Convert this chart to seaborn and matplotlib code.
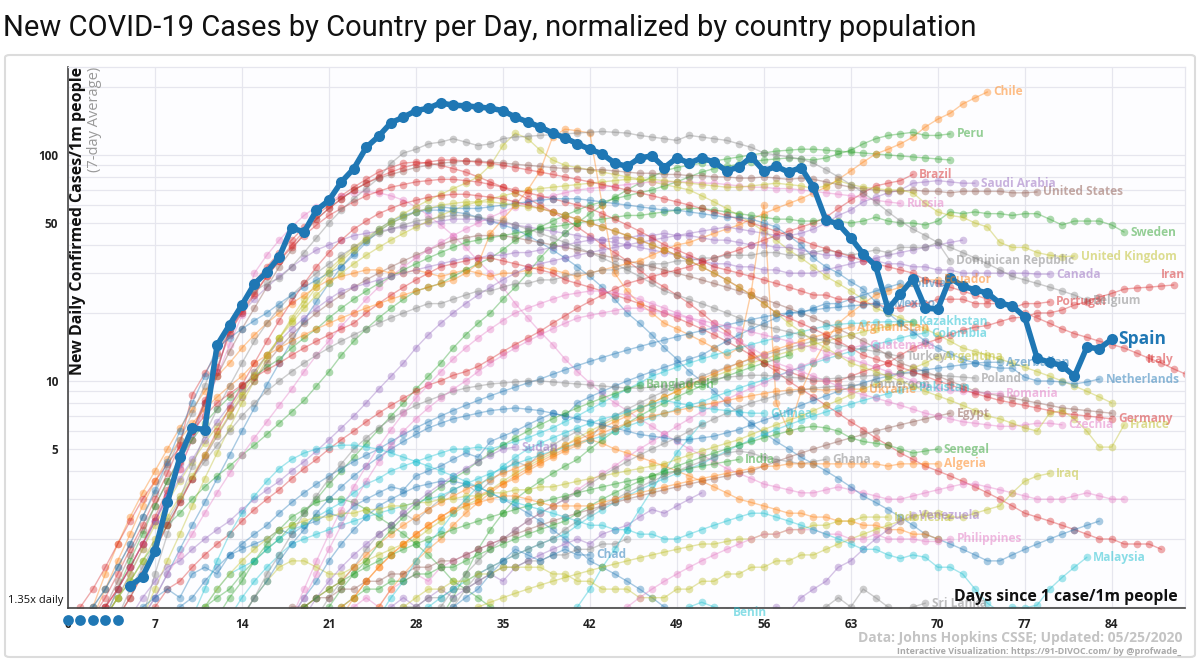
import matplotlib
matplotlib.use("Agg")
import matplotlib.pyplot as plt
import matplotlib.ticker as mticker
from matplotlib.patches import FancyBboxPatch
import pandas as pd
import seaborn as sns

# palette (d3 category10)
BLUE, ORANGE, GREEN, RED, PURPLE = "#1f77b4", "#ff7f0e", "#2ca02c", "#d62728", "#9467bd"
BROWN, PINK, GRAY, OLIVE, CYAN = "#8c564b", "#e377c2", "#7f7f7f", "#bcbd22", "#17becf"

# Spain (highlighted), days 5..84
spain_start = 5
spain_values = [1.24, 1.36, 1.77, 2.9, 4.6, 6.2, 6.1, 14.4, 17.7, 21.7,
                26.9, 30.3, 35.4, 47.6, 45.6, 57, 63, 76, 87, 108,
                121, 139, 147, 157, 161, 170, 166, 165, 163, 161,
                157, 147, 140, 133, 125, 119, 112, 106, 101, 92,
                89, 97, 99, 88, 97, 92, 97, 93, 85, 88.5,
                98, 85, 89, 84, 88, 72, 51.5, 49.5, 43, 36.5,
                32.3, 20.8, 24.3, 28.3, 21, 20.8, 28.6, 26.3, 25.3, 24.5,
                22.1, 21.5, 19.2, 12.6, 12.1, 11.7, 10.5, 14.1, 13.9, 15.3]
spain_floor_days = [0, 1, 2, 3, 4]
spain_floor_value = 0.875

# other countries: values end on the given last day
chile = [1.0, 1.4, 1.9, 2.5, 3.2, 4.0, 5.0, 6.2, 7.5, 9, 10.5, 12, 14, 16, 18, 20, 22, 24, 26, 28,
         29, 30, 31, 31, 30, 30, 31, 30, 29, 30, 31, 30, 29, 30, 30, 31, 32, 31, 30, 29, 30,
         31, 32, 33, 34, 36, 38, 40, 41, 43, 45, 47, 49, 52, 55, 58, 61, 64, 68, 72, 78,
         85, 93, 101, 106, 112, 120, 133, 144, 153, 168, 179, 190]
peru = [0.9, 1.1, 1.3, 1.6, 1.9, 2.3, 2.6, 3.0, 3.4, 3.8, 4.2, 4.7, 5.2, 5.8, 6.5, 7.3, 8.2, 9.5, 11, 13,
        15, 17, 19, 21, 23, 25, 26, 27, 29, 31, 33, 35, 38, 42, 45, 48, 51, 54, 57, 60,
        62, 64, 66, 68, 70, 73, 76, 80, 84, 87, 89, 91, 93, 95, 96, 97, 96, 95, 97, 101,
        105, 112, 118, 122, 124, 126, 122, 122, 124]
brazil = [0.9, 1.0, 1.2, 1.3, 1.5, 1.7, 1.9, 2.1, 2.4, 2.7, 3.0, 3.3, 3.7, 4.1, 4.5, 5.0, 5.5, 6.0, 6.6, 7.2,
          7.8, 8.4, 9.0, 9.6, 10, 10.6, 11, 11.6, 12.5, 13.5, 14.5, 15.5, 16.6, 18, 19.4, 21, 22.5, 24, 25.5, 27,
          28, 29, 30, 31, 32, 33.5, 35, 36.5, 38, 40, 42, 44, 46, 48, 50, 53, 58, 63, 68, 73, 75, 77, 82]
saudi = [0.9, 1.1, 1.3, 1.5, 1.6, 1.8, 2.0, 2.2, 2.4, 2.7, 3.0, 3.3, 3.6, 4.0, 4.4, 4.9, 5.5, 6.2, 7.0, 8.0,
         9.2, 10.5, 12, 14, 16, 18, 20, 22, 24, 26, 28, 30, 32, 33, 34, 35, 36, 37, 38, 39,
         40, 41, 42, 43, 44, 45, 46, 47, 48, 47, 46, 45, 44, 44, 45, 47, 50, 54, 57, 62,
         65, 68, 70, 75, 76, 77, 76, 75, 75]
usa = [0.5, 0.6, 0.8, 1.0, 1.3, 1.7, 2.2, 2.8, 3.6, 4.6, 6, 8, 10.5, 13.5, 17, 21, 26, 32, 38, 45,
       52, 58, 64, 70, 75, 79, 82, 85, 88, 90, 92, 93, 94, 94, 93, 92, 91, 90, 89, 88,
       87, 87, 86, 86, 85, 84, 83, 83, 82, 82, 81, 81, 80, 80, 79, 79, 80, 79, 78, 79,
       78, 76, 74, 72, 71, 70, 69, 69, 70, 69, 69, 68, 69, 69, 69, 69, 68, 68, 68.6]
russia = [0.9, 1.1, 1.4, 1.7, 2.1, 2.6, 3.2, 3.9, 4.7, 5.6, 6.6, 7.8, 9.2, 11, 13, 15, 17.5, 20, 23, 26,
          29, 32, 35, 38, 41, 44, 47, 50, 53, 56, 59, 62, 64, 66, 68, 70, 71, 72, 73, 74,
          75, 76, 76, 76, 76, 75, 75, 74, 73, 72, 72, 71, 71, 70, 69, 68, 67, 66, 65, 63, 62, 61]
sweden = [0.9, 1.2, 1.6, 2.1, 2.8, 3.6, 4.5, 5.5, 6.5, 7.5, 8.5, 9.5, 10.5, 11.5, 12.5, 14, 15.5, 17, 19, 21,
          23, 25, 27, 29, 31, 33, 35, 37, 39, 41, 42, 43, 44, 45, 46, 47, 48, 49, 50, 51,
          52, 53, 54, 54, 55, 56, 57, 58, 58, 57, 56, 55, 54, 53, 52, 52, 51, 51, 52, 51,
          50, 51, 53, 51, 50, 50, 49, 51, 56, 55, 56, 55, 55, 54, 55, 55, 52, 49, 51, 51, 51, 49, 45.6]
uk = [0.9, 1.1, 1.4, 1.8, 2.3, 2.9, 3.6, 4.4, 5.3, 6.3, 7.5, 9, 11, 13, 15.5, 18, 21, 24, 27, 30,
      33, 36, 39, 42, 45, 48, 51, 54, 57, 60, 62, 64, 66, 68, 70, 71, 72, 73, 74, 75,
      76, 77, 78, 78, 78, 77, 76, 75, 74, 73, 72, 72, 73, 74, 75, 74, 73, 71, 73, 77,
      74, 72, 71, 70, 70, 68, 61, 56, 54, 53, 50, 48, 41, 39, 39, 37, 36, 35.5, 35.7]
dominican = [0.9, 1.2, 1.5, 1.9, 2.4, 3.0, 3.7, 4.4, 5.2, 6.0, 7, 8, 9, 10, 11, 12, 13, 14, 15, 16,
             17, 18, 19, 20, 21, 22, 22, 23, 24, 25, 25, 26, 27, 27, 28, 28, 29, 30, 30, 31,
             31, 32, 32, 33, 33, 34, 34, 35, 35, 36, 36, 36, 37, 37, 36, 36, 37, 38, 37, 36,
             37, 38, 37, 39, 39, 39, 41, 34]
canada = [0.9, 1.2, 1.5, 1.9, 2.4, 3.0, 3.7, 4.5, 5.5, 6.6, 7.8, 9.2, 11, 13, 15, 17, 19, 21, 23, 25,
          26, 27, 28, 29, 30, 31, 32, 33, 34, 35, 35, 36, 36, 37, 37, 38, 39, 40, 41, 42,
          42, 43, 43, 44, 44, 45, 44, 44, 43, 42, 42, 41, 40, 40, 39, 39, 38, 37, 36, 36,
          35, 35, 34, 33, 33, 32, 32, 31, 31, 30, 30, 30, 30, 30, 30, 29.7, 29.7]
iran = [0.8, 1.0, 1.2, 1.5, 1.9, 2.4, 3.0, 3.6, 4.3, 5.1, 6.0, 7.0, 8.0, 8.8, 9.6, 10.4, 11.2, 12, 13, 14,
        15, 16, 17, 18, 20, 22, 24, 26, 28, 30, 32, 33, 34, 35, 35, 34, 33, 32, 31, 30,
        28, 27, 26, 25, 24, 23, 22, 21, 20, 19, 18, 17, 16, 15, 14, 13, 12, 11.5, 11, 10.5,
        10, 10, 10, 10.5, 11, 11.5, 12, 13, 14, 14.7, 15.3, 16, 16.8, 17.3, 17.6, 18.3, 19, 19.2, 20, 20,
        20.6, 21.7, 22.4, 23.5, 24.4, 25.5, 25.8, 26, 26.3, 26.6]
bolivia = [0.9, 1.0, 1.1, 1.2, 1.1, 1.4, 1.5, 1.4, 1.7, 1.8, 1.9, 2.0, 2.2, 2.1, 2.3, 2.4, 2.6, 2.5, 2.8, 3.0,
           3.2, 3.4, 3.3, 3.8, 4.0, 4.2, 4.5, 4.8, 4.6, 5.4, 5.7, 6.0, 6.4, 6.8, 7.2, 7.0, 8.0, 8.5, 9.0, 9.5,
           10, 10.5, 11, 11.5, 12, 12.5, 13, 14, 15, 16, 17, 18, 19, 20, 20, 21, 22, 22, 23, 24, 25, 26, 27]
ecuador = [0.9, 1.2, 1.6, 2.1, 2.8, 3.6, 4.5, 5.5, 6.5, 7.5, 8.5, 9.5, 10.5, 12, 13, 14, 15, 16, 17, 18,
           19, 20, 21, 22, 23, 24, 25, 26, 27, 28, 30, 33, 45, 52, 60, 70, 85, 120, 130, 128,
           125, 60, 30, 25, 22, 20, 18, 17, 16, 15, 14, 13, 14, 25, 60, 8, 6, 9, 12, 15,
           18, 20, 22, 24, 25, 26, 27, 28, 28]
portugal = [0.7, 0.8, 1.0, 1.2, 1.5, 1.9, 2.5, 3.3, 4.4, 6.0, 8.2, 11, 17, 20.5, 24.5, 29, 34, 39, 44, 49,
            54, 58, 62, 66, 69, 72, 74, 76, 77, 78, 78, 77, 76, 74, 72, 70, 68, 66, 64, 62, 60,
            58, 55, 52, 49, 46, 43, 40, 38, 36, 34, 32, 31, 30, 29, 28, 27, 26, 25, 24, 24,
            23, 23, 22, 22, 21, 21, 22, 22, 23, 23, 23, 22, 22, 22, 21, 22, 22, 22.4]
belgium = [0.7, 0.8, 1.0, 1.2, 1.5, 1.9, 2.5, 3.2, 4.2, 5.5, 7.2, 9.5, 13, 17, 22, 25, 27, 28.5, 32, 37,
           43, 50, 57, 64, 71, 79, 92, 102, 106, 112, 114, 118, 114, 110, 112, 118, 120, 121, 122, 123,
           124, 125, 126, 127, 126, 125, 122, 120, 118, 116, 122, 120, 118, 116, 112, 108, 102, 100, 98, 96,
           92, 86, 80, 74, 68, 62, 56, 51, 47, 44, 41, 39, 37, 35, 33, 31, 29, 28, 27, 26, 25, 24, 22.8]
mexico = [0.9, 1.0, 1.1, 1.3, 1.5, 1.7, 1.9, 2.1, 2.3, 2.6, 2.9, 3.2, 3.5, 3.8, 4.1, 4.4, 4.7, 5.0, 5.4, 5.8,
          6.2, 6.6, 7.0, 7.4, 7.8, 8.2, 8.6, 9.0, 9.4, 9.8, 10.2, 10.7, 11.2, 11.7, 12.2, 12.7, 13.2, 13.7, 14.2, 14.7,
          15.2, 15.7, 16.2, 16.7, 17.2, 17.7, 18.2, 18.7, 19.2, 19.7, 20, 20.3, 20.6, 21, 21.2, 21.5, 21.7, 21.9, 22]
italy = [0.7, 0.8, 0.9, 1.1, 1.4, 1.8, 2.3, 3.0, 3.9, 5.2, 8.7, 10.8, 13.3, 16.3, 20, 24, 29, 34, 40, 46,
         52, 58, 64, 70, 75, 80, 84, 88, 91, 93, 95, 95, 94, 93, 92, 90, 88, 86, 84, 82,
         80, 78, 76, 74, 72, 70, 68, 66, 64, 62, 60, 58, 56, 54, 52, 50, 48, 46, 44, 42,
         40, 38.5, 37, 35.5, 34, 33, 32, 31, 30, 28, 27, 26, 25, 24, 23, 22, 21, 20, 19, 18,
         17, 16.2, 15.6, 15, 14.5, 14, 13.3, 12.6, 12, 11.3, 10.7, 10.2]
kazakhstan = [0.9, 1.0, 1.2, 1.4, 1.5, 1.6, 1.8, 2.0, 2.2, 2.3, 2.5, 2.7, 2.9, 3.2, 3.5, 3.7, 4.0, 4.2, 4.4, 4.6,
              4.8, 5.0, 5.0, 5.1, 5.0, 5.2, 5.4, 5.6, 5.9, 6.2, 6.6, 7.0, 7.5, 8.0, 8.6, 9.2, 9.8, 10.5, 11, 11.5,
              12, 12.5, 13, 13.5, 14, 14.5, 15, 15.5, 16, 16.5, 17, 17.5, 17.8, 18, 18, 18.2, 18.3, 18.3, 18.3]
colombia = [0.9, 1.1, 1.3, 1.5, 1.7, 1.9, 2.0, 2.1, 2.2, 2.3, 2.4, 2.5, 2.6, 2.7, 2.8, 2.9, 3.0, 3.1, 3.3, 3.5,
            3.7, 3.9, 4.1, 4.3, 4.5, 4.7, 4.9, 5.1, 5.3, 5.5, 5.7, 6.0, 6.3, 6.6, 6.9, 7.2, 7.5, 7.8, 8.1, 8.5,
            8.9, 9.3, 9.7, 10.1, 10.5, 11, 11.5, 12, 12.5, 13, 13.5, 14, 14.5, 15, 15.5, 16, 16.3]
afghanistan = [0.9, 1.0, 1.1, 1.2, 1.3, 1.5, 1.7, 1.9, 2.1, 2.3, 2.5, 2.7, 2.9, 3.1, 3.3, 3.5, 3.7, 3.9, 4.1, 4.3,
               4.6, 4.9, 5.2, 5.5, 5.8, 6.2, 6.6, 7.0, 7.5, 8.0, 8.5, 9.0, 9.6, 10.2, 10.8, 11.4, 12, 12.6, 13.2, 13.8,
               14.4, 15, 15.6, 16.2, 16.8, 17.3]
guatemala = [0.9, 1.0, 1.1, 1.0, 1.2, 1.3, 1.4, 1.3, 1.5, 1.6, 1.7, 1.8, 1.9, 2.0, 2.2, 2.4, 2.6, 2.8, 3.0, 3.3,
             3.6, 3.9, 4.2, 4.6, 5.0, 5.4, 5.8, 6.3, 6.8, 7.3, 7.8, 8.3, 8.8, 9.3, 9.8, 10.4, 11, 11.6, 12.2, 12.8,
             13.4, 14, 14.4]
turkey = [0.9, 1.4, 2.1, 3.0, 4.2, 5.8, 7.5, 9.5, 12, 15, 18, 21, 24, 27, 30, 33, 36, 39, 42, 45,
          47, 49, 51, 52, 53, 54, 54, 53, 52, 51, 49, 47, 45, 43, 41, 39, 37, 35, 33, 31,
          29, 27, 25, 24, 23, 22, 21, 20, 19, 18, 17.5, 17, 16.5, 16, 15.5, 15, 14.5, 14, 13.8, 13.5, 13.2, 12.8]
argentina = [0.9, 1.0, 1.2, 1.4, 1.6, 1.8, 2.0, 2.2, 2.3, 2.4, 2.5, 2.5, 2.6, 2.6, 2.7, 2.7, 2.8, 2.8, 2.9, 2.9,
             3.0, 3.0, 3.1, 3.1, 3.2, 3.2, 3.3, 3.3, 3.4, 3.4, 3.5, 3.6, 3.7, 3.8, 3.9, 4.0, 4.1, 4.2, 4.3, 4.5,
             4.7, 4.9, 5.1, 5.3, 5.5, 5.8, 6.1, 6.4, 6.7, 7.0, 7.4, 7.8, 8.2, 8.7, 9.2, 9.7, 10.2, 10.8, 11.4, 12, 12.8]
azerbaijan = [0.9, 1.1, 1.3, 1.6, 1.9, 2.2, 2.6, 3.0, 3.4, 3.8, 4.2, 4.6, 5.0, 5.4, 5.8, 6.2, 6.5, 6.8, 7.0, 7.2,
              7.4, 7.5, 7.6, 7.5, 7.4, 7.2, 7.0, 6.8, 6.6, 6.4, 6.2, 6.0, 5.8, 5.7, 5.6, 5.5, 5.5, 5.6, 5.7, 5.9,
              6.1, 6.4, 6.7, 7.0, 7.4, 7.8, 8.2, 8.6, 9.0, 9.4, 9.8, 10.2, 10.5, 10.8, 11, 11.2, 11.4, 11.6, 11.8, 12,
              12.1, 12.1]
netherlands = [0.7, 0.8, 1.0, 1.2, 1.5, 1.9, 2.5, 3.3, 4.4, 6.0, 8, 10.5, 14, 15.5, 17, 18.5, 20, 22, 24, 26,
               28, 30, 32, 36, 41, 46, 50, 53, 56, 58, 59, 58, 58, 58, 59, 60, 61, 62, 63, 64,
               64, 64, 63, 62, 61, 60, 59, 58, 57, 57, 56, 55, 54, 53, 53, 52, 50, 48, 44, 40,
               35, 32, 30, 27.5, 25.5, 22.4, 20, 18, 16.5, 15, 14, 13.2, 12.5, 12, 11.6, 11.4, 11.4, 10.4, 10, 10,
               9.9, 9.7, 9.9, 10.2]
poland = [0.9, 1.1, 1.4, 1.7, 2.1, 2.6, 3.1, 3.7, 4.3, 5.0, 5.6, 6.2, 6.8, 7.3, 7.8, 8.2, 8.6, 9.0, 9.3, 9.5,
          9.7, 9.8, 9.9, 10, 10, 9.9, 9.8, 9.7, 9.6, 9.5, 9.4, 9.3, 9.3, 9.4, 9.5, 9.6, 9.8, 10, 10.2, 10.4,
          10.5, 10.6, 10.6, 10.5, 10.4, 10.3, 10.2, 10.2, 10.3, 10.4, 10.5, 10.6, 10.7, 10.8, 10.8, 10.7, 10.6, 10.5, 10.4, 10.3]
cameroon = [0.9, 1.0, 1.2, 1.4, 1.6, 1.8, 2.0, 2.2, 2.4, 2.6, 2.8, 3.0, 3.2, 3.5, 3.8, 4.1, 4.4, 4.7, 5.0, 5.3,
            5.6, 6.0, 6.4, 6.8, 7.2, 7.6, 8.0, 8.3, 8.6, 8.9, 9.1, 9.3, 9.4, 9.5, 9.6, 9.6]
ukraine = [0.9, 1.0, 1.2, 1.4, 1.6, 1.8, 2.0, 2.3, 2.6, 2.9, 3.2, 3.5, 3.8, 4.1, 4.4, 4.7, 5.0, 5.3, 5.6, 5.9,
           6.2, 6.5, 6.8, 7.0, 7.2, 7.4, 7.6, 7.8, 8.0, 8.2, 8.4, 8.6, 8.8, 9.0, 9.1, 9.2, 9.2, 9.1, 9.2, 9.2, 9.2]
pakistan = [0.9, 1.0, 1.1, 1.2, 1.3, 1.4, 1.5, 1.6, 1.7, 1.8, 1.9, 2.0, 2.1, 2.3, 2.5, 2.7, 2.9, 3.1, 3.3, 3.5,
            3.7, 3.9, 4.1, 4.3, 4.6, 4.9, 5.2, 5.5, 5.8, 6.1, 6.4, 6.7, 7.0, 7.3, 7.6, 7.9, 8.2, 8.5, 8.8, 9.1, 9.4]
bangladesh = [0.9, 1.0, 1.2, 1.4, 1.6, 1.9, 2.2, 2.5, 2.8, 3.1, 3.4, 3.7, 4.0, 4.4, 4.8, 5.2, 5.6, 6.0, 6.4, 6.8,
              7.2, 7.6, 8.0, 8.4, 8.8, 9.2, 9.6]
romania = [0.9, 1.1, 1.4, 1.8, 2.3, 2.9, 3.6, 4.4, 5.2, 6.0, 6.8, 7.6, 8.4, 9.2, 10, 11, 12, 13, 14, 15,
           16, 17, 18, 19, 19.5, 20, 20.5, 21, 21, 20.5, 20, 19.5, 19, 18.5, 18, 17.5, 17, 16.5, 16, 15.5,
           15, 14.5, 14, 13.5, 13, 12.5, 12, 11.5, 11, 10.5, 10, 9.5, 9.3, 9.1, 9.0, 8.9, 8.8, 8.8]
egypt = [0.9, 1.0, 1.0, 1.1, 1.1, 1.2, 1.2, 1.3, 1.3, 1.4, 1.4, 1.5, 1.5, 1.6, 1.6, 1.7, 1.8, 1.9, 2.0, 2.1,
         2.2, 2.3, 2.4, 2.5, 2.6, 2.7, 2.8, 2.9, 3.0, 3.1, 3.2, 3.3, 3.4, 3.5, 3.6, 3.7, 3.8, 3.9, 4.0, 4.2,
         4.4, 4.6, 4.8, 5.0, 5.2, 5.4, 5.6, 5.8, 6.0, 6.2, 6.4, 6.6, 6.8, 7.0, 7.2]
germany = [0.9, 1.1, 1.4, 1.8, 2.3, 2.9, 3.7, 4.7, 6, 7.6, 9.6, 12, 15, 18.5, 22.5, 27, 32, 37, 42, 47,
           51, 55, 58, 61, 63, 65, 66, 67, 67, 66, 65, 64, 62, 60, 58, 56, 54, 52, 50, 48,
           46, 44, 42, 40, 38, 36, 34, 32, 30, 28, 26, 24, 22, 20, 19, 18, 17, 16, 15, 14,
           13, 12.5, 12, 11.5, 11, 10.5, 10, 9.6, 9.2, 8.8, 8.5, 8.2, 8.0, 7.8, 7.6, 7.4, 7.2, 7.1, 7.0, 6.9, 6.8]
czechia = [0.9, 1.2, 1.6, 2.1, 2.7, 3.4, 4.2, 5.1, 6.1, 7.2, 8.4, 9.6, 11, 12.5, 14, 15.5, 17, 18.5, 20, 21,
           22, 23, 24, 24.5, 25, 25, 24.5, 24, 23, 22, 21, 20, 19, 18, 17, 16, 15, 14, 13, 12,
           11.5, 11, 10.5, 10, 9.5, 9, 8.7, 8.4, 8.1, 7.8, 7.5, 7.2, 7.0, 6.8, 6.6, 6.5, 6.4, 6.3, 6.3, 6.4,
           6.5, 6.5, 6.4]
france = [0.9, 1.1, 1.3, 1.6, 2.0, 2.5, 3.1, 3.8, 4.7, 5.8, 7.1, 8.7, 10.6, 13, 15.5, 18.5, 22, 26, 30, 34,
          38, 42, 46, 50, 53, 56, 58, 60, 61, 62, 62, 62, 61, 60, 59, 58, 56, 54, 52, 50,
          48, 46, 44, 42, 40, 38, 36, 34, 32, 30, 28, 26, 24, 22, 20, 18, 16.5, 15, 14, 13,
          12, 11.5, 11, 10.5, 10, 9.5, 9, 8.6, 8.2, 7.8, 7.4, 7.0, 6.8, 6.5, 6.2, 6.0, 7.2, 7.4, 6.8, 6.0,
          5.1, 5.1, 6.4]
guinea = [0.9, 1.1, 1.3, 1.6, 1.9, 2.2, 2.6, 3.0, 3.4, 3.8, 4.2, 4.6, 5.0, 5.3, 5.6, 5.9, 6.2, 6.5, 6.8, 7.0,
          7.3, 7.6, 7.9, 8.2, 8.0, 7.8, 7.6, 7.5, 7.4, 7.3, 7.2, 7.2]
sudan = [0.9, 1.1, 1.3, 1.5, 1.7, 1.9, 2.1, 2.3, 2.6, 2.9, 3.2, 3.5, 3.8, 4.1, 4.4, 4.7, 5.0, 5.1]
senegal = [0.9, 1.0, 1.1, 1.2, 1.2, 1.3, 1.3, 1.4, 1.4, 1.5, 1.5, 1.6, 1.7, 1.8, 1.9, 2.0, 2.1, 2.2, 2.3, 2.4,
           2.6, 2.8, 3.0, 3.2, 3.4, 3.6, 3.8, 4.0, 4.2, 4.4, 4.6, 4.8, 5.0, 5.2, 5.4, 5.6, 5.8, 6.0, 6.2, 6.3,
           6.2, 6.0, 5.6, 5.4, 5.3, 5.2, 5.0, 4.8, 4.9, 5.0]
india = [0.9, 1.0, 1.1, 1.2, 1.3, 1.4, 1.5, 1.6, 1.7, 1.8, 1.9, 2.0, 2.1, 2.2, 2.3, 2.4, 2.5, 2.6, 2.7, 2.8,
         2.9, 3.0, 3.1, 3.2, 3.3, 3.4, 3.5, 3.6, 3.7, 3.8, 3.9, 4.0, 4.1, 4.2, 4.3, 4.4, 4.5]
ghana = [0.9, 1.0, 1.2, 1.4, 1.5, 1.6, 1.7, 1.8, 1.9, 2.0, 2.2, 2.4, 2.6, 2.8, 3.0, 3.2, 3.4, 3.6, 3.8, 4.0,
         4.2, 4.4, 4.6, 4.8, 4.9, 4.8, 4.6, 4.5, 4.4, 4.3, 4.4, 4.5]
algeria = [0.9, 1.0, 1.1, 1.3, 1.5, 1.7, 1.9, 2.1, 2.3, 2.5, 2.7, 2.8, 2.9, 3.0, 3.1, 3.1, 3.0, 2.9, 2.8, 2.8,
           2.8, 2.8, 2.9, 3.0, 3.1, 3.2, 3.3, 3.4, 3.5, 3.6, 3.7, 3.8, 3.9, 4.0, 4.1, 4.2, 4.2, 4.3, 4.3, 4.3,
           4.3, 4.3, 4.3, 4.3, 4.3, 4.2, 4.3, 4.3, 4.3, 4.3]
iraq = [0.9, 1.0, 1.1, 1.2, 1.2, 1.3, 1.3, 1.4, 1.4, 1.5, 1.5, 1.5, 1.5, 1.4, 1.4, 1.3, 1.3, 1.2, 1.2, 1.2,
        1.1, 1.1, 1.1, 1.2, 1.2, 1.3, 1.3, 1.4, 1.4, 1.5, 1.5, 1.6, 1.6, 1.7, 1.7, 1.8, 1.9, 2.0, 2.1, 2.2,
        2.3, 2.4, 2.5, 2.6, 2.6, 2.5, 2.5, 2.6, 2.7, 2.8, 3.2, 3.6, 3.8, 3.9]
indonesia = [0.9, 0.95, 1.0, 1.05, 1.1, 1.15, 1.2, 1.25, 1.3, 1.35, 1.4, 1.45, 1.5, 1.55, 1.6, 1.65, 1.7, 1.75,
             1.8, 1.85, 1.9, 1.9, 1.95, 2.0, 2.0, 2.1, 2.1, 2.2, 2.2, 2.3, 2.3, 2.4, 2.4, 2.5, 2.5, 2.5]
venezuela = [0.9, 1.0, 0.95, 1.1, 1.2, 1.3, 1.5, 1.6, 1.8, 2.0, 2.2, 2.4, 2.55]
philippines = [0.9, 1.0, 1.1, 1.2, 1.3, 1.4, 1.5, 1.6, 1.7, 1.8, 1.9, 2.0, 2.1, 2.1, 2.2, 2.2, 2.2, 2.1, 2.1, 2.0,
               2.0, 2.1, 2.0, 2.0, 2.0, 1.95, 1.95, 2.0]
chad = [0.9, 1.0, 1.1, 1.2, 1.4, 1.6, 1.8, 1.7, 1.6, 1.7, 1.8, 1.7, 1.7]
malaysia = [0.9, 1.2, 1.6, 2.1, 2.6, 3.1, 3.6, 4.1, 4.5, 4.8, 5.0, 5.1, 5.2, 5.2, 5.1, 5.0, 4.8, 4.6, 4.4, 4.2,
            4.0, 3.8, 3.6, 3.4, 3.2, 3.0, 2.9, 2.8, 2.7, 2.6, 2.5, 2.4, 2.3, 2.3, 2.2, 2.2, 2.1, 2.1, 2.0, 2.0,
            2.1, 2.2, 2.3, 2.4, 2.5, 2.6, 2.6, 2.5, 2.4, 2.3, 2.2, 2.1, 2.0, 1.9, 1.8, 1.8, 1.7, 1.64, 1.7, 1.66,
            1.5, 1.5, 1.4, 1.2, 1.04, 0.95, 1.0, 0.99, 1.02, 1.2, 1.35, 1.5, 1.66]
sri_lanka = [0.9, 1.0, 1.1, 1.0, 1.2, 1.1, 1.0, 0.95, 1.0, 1.04]
benin = [0.9, 0.95, 1.0, 1.05, 1.0, 0.95]
belarus = [0.9, 1.0, 1.1, 1.2, 1.4, 1.6, 1.8, 2.0, 2.3, 2.6, 3.0, 3.5, 4.0, 4.6, 5.3, 6.1, 7.0, 8.0, 9.2, 10.5,
           12, 14, 16, 18, 20, 23, 26, 30, 35, 40, 45, 50, 55, 60, 65, 70, 75, 80, 85, 88,
           90, 92, 94, 96, 98, 100, 102, 104, 105, 106, 106, 105, 104, 103, 102, 101, 100, 99, 98, 97, 96, 95]
ireland = [0.9, 1.2, 1.6, 2.1, 2.8, 3.7, 4.8, 6.2, 8, 10, 12.5, 15.5, 19, 23, 27, 31, 35, 39, 43, 47,
           51, 55, 59, 63, 67, 71, 75, 80, 90, 110, 125, 118, 105, 95, 90, 88, 86, 84, 82, 80,
           78, 76, 74, 72, 70, 66, 62, 58, 54, 50, 46, 42, 38, 35, 32, 29, 27, 25, 23, 21,
           20, 19, 18, 17, 16, 15, 14, 13.5, 13, 12.5, 12, 11.5, 11, 10.5, 10, 9.5, 9, 8.5, 8]
switzerland = [0.7, 0.8, 1.0, 1.2, 1.5, 1.9, 2.4, 3.1, 4.1, 5.5, 8, 11.5, 16, 21, 27.5, 32, 37, 42, 48, 54,
               60, 66, 72, 78, 84, 88, 92, 93, 92, 90, 87, 84, 80, 76, 72, 68, 64, 60, 56, 52,
               48, 44, 40, 37, 34, 31, 28, 26, 24, 22, 20, 18, 16.5, 15, 13.5, 12, 11, 10, 9.2, 8.5,
               7.8, 7.2, 6.6, 6.1, 5.6, 5.2, 4.8, 4.5, 4.2, 4.0, 3.8, 3.6, 3.4, 3.2, 3.0, 2.8, 2.6, 2.5, 2.4, 2.3,
               2.2, 2.1, 2.0, 2.0, 1.9, 1.9, 1.9, 1.8]
austria = [0.7, 0.8, 1.0, 1.2, 1.5, 1.9, 2.4, 3.1, 4.1, 5.5, 7.5, 10.5, 14.5, 19.5, 30, 36, 42, 48, 54, 59,
           63, 66, 68, 69, 68, 66, 63, 59, 54, 49, 44, 39, 34, 30, 26, 22, 19, 16.5, 14.5, 12.5,
           11, 9.8, 8.8, 8, 7.4, 6.8, 6.3, 5.8, 5.4, 5, 4.7, 4.4, 4.1, 3.9, 3.7, 3.5, 3.4, 3.3, 3.2, 3.2,
           3.3, 3.4, 3.3, 3.2, 3.1, 3.0, 3.0, 3.1, 3.2, 3.3, 3.4, 3.5, 3.5, 3.4, 3.3, 3.2, 3.1, 3.0, 3.0, 3.0,
           3.1, 3.2, 3.1, 3.0, 3.0]
israel = [0.9, 1.1, 1.4, 1.8, 2.3, 2.9, 3.7, 4.7, 6, 7.6, 9.6, 12, 15, 18.5, 22.5, 27, 32, 37, 42, 47,
          51, 54, 56, 57, 57, 56, 55, 53, 51, 49, 47, 44, 41, 38, 35, 32, 29, 26, 23, 20,
          18, 16, 14, 12.5, 11, 10, 9, 8, 7.2, 6.5, 5.9, 5.4, 5.0, 4.6, 4.3, 4.0, 3.7, 3.4, 3.1, 2.9,
          2.7, 2.5, 2.3, 2.1, 2.0, 1.9, 1.8, 1.7, 1.6, 1.6, 1.7, 1.8, 1.9, 2.0, 2.1, 2.2, 2.3, 2.4]
panama = [0.7, 0.8, 0.9, 1.1, 1.4, 1.8, 2.4, 3.2, 4.3, 5.8, 8, 11, 17, 20, 23, 26, 29, 32, 35, 38,
          40, 42, 44, 45, 46, 47, 48, 49, 50, 51, 52, 52, 52, 51, 50, 49, 48, 47, 46, 45,
          44, 43, 42, 41, 40, 39, 38, 37, 36, 35, 34, 33, 33, 32, 32, 31, 31, 30, 30, 30,
          31, 32, 33, 34, 35, 36, 37, 38, 39, 40, 41, 42]
denmark = [0.9, 1.1, 1.4, 1.8, 2.3, 2.9, 3.7, 4.6, 5.7, 7, 8.5, 10, 12, 14, 16, 18, 20, 22, 24, 26,
           28, 30, 32, 34, 36, 38, 40, 42, 43, 44, 44, 44, 43, 42, 41, 40, 39, 38, 37, 36,
           35, 34, 33, 32, 31, 30, 29, 28, 27, 26, 25, 24, 23, 22, 21, 20, 19, 18, 17, 16,
           15, 14, 13, 12, 11.5, 11, 10.5, 10, 9.5, 9, 8.8, 8.6, 8.4, 8.2, 8.0, 7.8, 7.6, 7.5, 7.4, 7.3, 7.2]
south_africa = [0.9, 1.1, 1.3, 1.5, 1.6, 1.6, 1.5, 1.4, 1.4, 1.5, 1.6, 1.7, 1.8, 1.9, 2.0, 2.2, 2.4, 2.6, 2.8, 3.0,
                3.3, 3.6, 3.9, 4.2, 4.5, 4.8, 5.2, 5.6, 6.0, 6.4, 6.8, 7.2, 7.6, 8.0, 8.5, 9.0, 9.5, 10, 10.5, 11,
                11.5, 12, 12.5, 13, 13.5, 14, 14.5, 15, 15.5, 16, 16.5, 17, 17.5, 18, 18.3]
morocco = [0.9, 1.1, 1.3, 1.5, 1.7, 1.9, 2.1, 2.3, 2.5, 2.7, 2.9, 3.1, 3.3, 3.5, 3.7, 4.0, 4.3, 4.6, 4.9, 5.2,
           5.5, 5.3, 5.0, 4.8, 4.6, 4.4, 4.2, 4.0, 3.8, 3.6, 3.4, 3.2, 3.0, 2.9, 2.8, 2.7, 2.6, 2.6, 2.5, 2.5,
           2.4, 2.4, 2.3, 2.3, 2.2, 2.2, 2.1, 2.1, 2.0]
cuba = [0.9, 1.1, 1.3, 1.6, 1.9, 2.2, 2.5, 2.8, 3.0, 3.2, 3.4, 3.5, 3.6, 3.6, 3.5, 3.4, 3.2, 3.0, 2.8, 2.6,
        2.4, 2.2, 2.0, 1.8, 1.6, 1.5, 1.4, 1.3, 1.2, 1.1, 1.0, 0.95, 0.9]
honduras = [0.9, 1.1, 1.3, 1.5, 1.8, 2.1, 2.3, 2.6, 2.4, 2.7, 3.0, 3.3, 3.5, 3.2, 3.6, 4.0, 4.4, 4.2, 4.8, 5.2,
            5.6, 6.0, 5.5, 6.5, 7.0, 7.5, 8.0, 8.5, 9.0, 9.5, 10, 10.5, 11, 11.5, 12, 12.5, 13, 13.5, 14, 14.5,
            15, 15.5, 16]
tunisia = [0.9, 1.1, 1.3, 1.6, 1.9, 2.2, 2.5, 2.7, 2.9, 3.0, 3.0, 2.9, 2.7, 2.5, 2.3, 2.1, 1.9, 1.7, 1.5, 1.3,
           1.2, 1.1, 1.0, 0.95, 0.9]
el_salvador = [0.9, 1.1, 1.4, 1.8, 2.2, 2.6, 3.0, 3.3, 3.6, 3.9, 4.2, 4.5, 5.0, 5.5, 6.0, 6.5, 7.0, 7.5, 8.0, 8.5,
               9.0, 9.5, 10, 10.5, 11, 11.5, 12, 12.5, 13]
kenya = [0.9, 1.0, 1.1, 1.0, 1.1, 1.2, 1.1, 1.2, 1.3, 1.4, 1.3, 1.5, 1.6, 1.7, 1.8, 1.9, 2.0, 1.9, 2.1, 2.2,
         2.3, 2.5, 2.7, 2.6, 2.8, 3.0, 3.2]
nigeria = [0.9, 1.0, 1.0, 1.1, 1.1, 1.2, 1.2, 1.3, 1.4, 1.5, 1.5, 1.6, 1.6, 1.7, 1.7, 1.8, 1.8, 1.9, 1.9, 2.0]
haiti = [0.9, 1.0, 1.2, 1.5, 1.8, 2.2, 2.7, 3.3, 4.0, 4.8, 5.6, 6.5]

# (name, colour, last day, values, label shown)
countries = [
    ("Switzerland", RED, 88, switzerland, False),
    ("Austria", PINK, 85, austria, False),
    ("Israel", BLUE, 83, israel, False),
    ("Ireland", OLIVE, 84, ireland, False),
    ("Denmark", BROWN, 84, denmark, False),
    ("Panama", PURPLE, 72, panama, False),
    ("Belarus", GREEN, 71, belarus, False),
    ("South Africa", OLIVE, 68, south_africa, False),
    ("Morocco", ORANGE, 70, morocco, False),
    ("Cuba", BLUE, 50, cuba, False),
    ("Honduras", GRAY, 62, honduras, False),
    ("Tunisia", GREEN, 36, tunisia, False),
    ("El Salvador", GREEN, 58, el_salvador, False),
    ("Kenya", PURPLE, 51, kenya, False),
    ("Nigeria", GRAY, 45, nigeria, False),
    ("Haiti", CYAN, 51, haiti, False),
    ("Chile", ORANGE, 74, chile, True),
    ("Peru", GREEN, 71, peru, True),
    ("Brazil", RED, 68, brazil, True),
    ("Saudi Arabia", PURPLE, 73, saudi, True),
    ("United States", BROWN, 78, usa, True),
    ("Russia", PINK, 67, russia, True),
    ("Sweden", GREEN, 85, sweden, True),
    ("United Kingdom", OLIVE, 81, uk, True),
    ("Dominican Republic", GRAY, 71, dominican, True),
    ("Canada", PURPLE, 79, canada, True),
    ("Iran", RED, 89, iran, True),
    ("Bolivia", BLUE, 67, bolivia, True),
    ("Ecuador", ORANGE, 70, ecuador, True),
    ("Portugal", RED, 79, portugal, True),
    ("Belgium", GRAY, 82, belgium, True),
    ("Mexico", BLUE, 66, mexico, True),
    ("Italy", RED, 91, italy, True),
    ("Kazakhstan", CYAN, 68, kazakhstan, True),
    ("Colombia", CYAN, 69, colombia, True),
    ("Afghanistan", ORANGE, 63, afghanistan, True),
    ("Guatemala", PINK, 64, guatemala, True),
    ("Turkey", GRAY, 67, turkey, True),
    ("Argentina", OLIVE, 70, argentina, True),
    ("Azerbaijan", BLUE, 75, azerbaijan, True),
    ("Netherlands", BLUE, 83, netherlands, True),
    ("Poland", GRAY, 73, poland, True),
    ("Ukraine", ORANGE, 64, ukraine, True),
    ("Cameroon", GRAY, 64, cameroon, True),
    ("Pakistan", CYAN, 68, pakistan, True),
    ("Bangladesh", GREEN, 46, bangladesh, True),
    ("Romania", PINK, 75, romania, True),
    ("Egypt", BROWN, 71, egypt, True),
    ("Germany", RED, 84, germany, True),
    ("Czechia", PINK, 80, czechia, True),
    ("France", OLIVE, 85, france, True),
    ("Guinea", CYAN, 56, guinea, True),
    ("Sudan", PURPLE, 36, sudan, True),
    ("Senegal", GREEN, 70, senegal, True),
    ("India", GREEN, 54, india, True),
    ("Ghana", GRAY, 61, ghana, True),
    ("Algeria", ORANGE, 70, algeria, True),
    ("Iraq", OLIVE, 79, iraq, True),
    ("Indonesia", OLIVE, 66, indonesia, True),
    ("Venezuela", PURPLE, 68, venezuela, True),
    ("Philippines", PINK, 71, philippines, True),
    ("Chad", BLUE, 42, chad, True),
    ("Malaysia", CYAN, 82, malaysia, True),
    ("Sri Lanka", GRAY, 69, sri_lanka, True),
    ("Benin", CYAN, 53, benin, True),
]

rows = []
for name, color, last, vals, _ in countries:
    first = last - len(vals) + 1
    for i, v in enumerate(vals):
        rows.append((name, first + i, v))
df = pd.DataFrame(rows, columns=["country", "day", "value"])
palette = {c[0]: c[1] for c in countries}

spain_df = pd.DataFrame({"day": range(spain_start, spain_start + len(spain_values)),
                         "value": spain_values})

sns.set_theme(style="white")
plt.rcParams["font.family"] = ["Open Sans", "DejaVu Sans"]

fig = plt.figure(figsize=(12, 6.59), dpi=100)
ax = fig.add_axes([68 / 1200, 1 - 608 / 659, 1117 / 1200, 541 / 659])
ax.set_facecolor("#fdfdff")

sns.lineplot(data=df, x="day", y="value", hue="country", palette=palette,
             units="country", estimator=None, marker="o", markersize=5.5,
             markeredgewidth=0, linewidth=1, alpha=0.38, legend=False, ax=ax)
sns.lineplot(data=spain_df, x="day", y="value", color=BLUE, marker="o",
             markersize=8, markeredgewidth=0, linewidth=4, legend=False, ax=ax)
sns.scatterplot(x=spain_floor_days, y=[spain_floor_value] * len(spain_floor_days),
                color=BLUE, s=60, linewidth=0, legend=False, ax=ax)
ax.collections[-1].set_clip_on(False)

ax.set_yscale("log")
ax.set_ylim(0.99, 245)
ax.set_xlim(0, 89.9)
ax.set_xticks(range(0, 85, 7))
ax.yaxis.set_major_locator(mticker.FixedLocator([5, 10, 50, 100]))
ax.yaxis.set_major_formatter(mticker.FixedFormatter(["5", "10", "50", "100"]))
ax.yaxis.set_minor_locator(mticker.LogLocator(base=10, subs=range(1, 10)))
ax.yaxis.set_minor_formatter(mticker.NullFormatter())
ax.grid(True, which="both", axis="y", color="#e6e6ee", linewidth=0.9)
ax.grid(True, which="major", axis="x", color="#e6e6ee", linewidth=0.9)
ax.set_axisbelow(True)
ax.tick_params(axis="both", which="major", length=4, width=1, color="#444",
               labelsize=8.5, labelcolor="#222", pad=3)
ax.tick_params(axis="y", which="minor", length=0)
for lab in ax.get_xticklabels() + ax.get_yticklabels():
    lab.set_fontweight("bold")
for side in ["left", "bottom"]:
    ax.spines[side].set_color("#444")
    ax.spines[side].set_linewidth(1.2)
for side in ["top", "right"]:
    ax.spines[side].set_color("#e6e6ee")
    ax.spines[side].set_linewidth(0.9)
ax.set_xlabel("")
ax.set_ylabel("")

# country labels at line ends
for name, color, last, vals, show in countries:
    if not show:
        continue
    if name == "Italy":
        ax.text(86.8, 12.4, name, color=color, alpha=0.5, fontsize=8.6,
                fontweight="bold", va="center", ha="left")
        continue
    if name == "Iran":
        ax.text(89.9, 29.5, name, color=color, alpha=0.5, fontsize=8.6,
                fontweight="bold", va="center", ha="right")
        continue
    ax.text(last + 0.5, vals[-1], name, color=color, alpha=0.5, fontsize=8.6,
            fontweight="bold", va="center", ha="left", clip_on=False)
ax.text(84.5, spain_values[-1], "Spain", color=BLUE, fontsize=12.5,
        fontweight="bold", va="center", ha="left")

ax.text(0.009, 1.0, "New Daily Confirmed Cases/1m people", transform=ax.transAxes,
        rotation=90, ha="center", va="top", fontsize=11.5, fontweight="bold", color="#111")
ax.text(0.024, 1.0, "(7-day Average)", transform=ax.transAxes, rotation=90,
        ha="center", va="top", fontsize=10.5, color="#999")
ax.text(0.9937, 0.006, "Days since 1 case/1m people", transform=ax.transAxes,
        ha="right", va="bottom", fontsize=11.3, fontweight="bold", color="#111")
ax.text(-0.004, 0.004, "1.35x daily", transform=ax.transAxes, ha="right",
        va="bottom", fontsize=8, color="#111")

fig.text(0.0025, 1 - 28 / 659, "New COVID-19 Cases by Country per Day, normalized by country population",
         family=["Roboto", "DejaVu Sans"], fontsize=21, va="center", ha="left", color="#111")
fig.text(1183 / 1200, 1 - 638 / 659, "Data: Johns Hopkins CSSE; Updated: 05/25/2020",
         ha="right", va="center", fontsize=10, fontweight="bold", color="#c4c4c4")
fig.text(1181 / 1200, 1 - 651 / 659, "Interactive Visualization: https://91-DIVOC.com/ by @profwade_",
         ha="right", va="center", fontsize=6.5, fontweight="bold", color="#aaaaaa")

frame = FancyBboxPatch((5 / 1200, 2 / 659), 1190 / 1200, 602 / 659,
                       boxstyle="round,pad=0,rounding_size=0.004", transform=fig.transFigure,
                       facecolor="none", edgecolor="#dcdcdc", linewidth=1.5, zorder=-1)
fig.patches.append(frame)

fig.savefig("out.png", dpi=100)
